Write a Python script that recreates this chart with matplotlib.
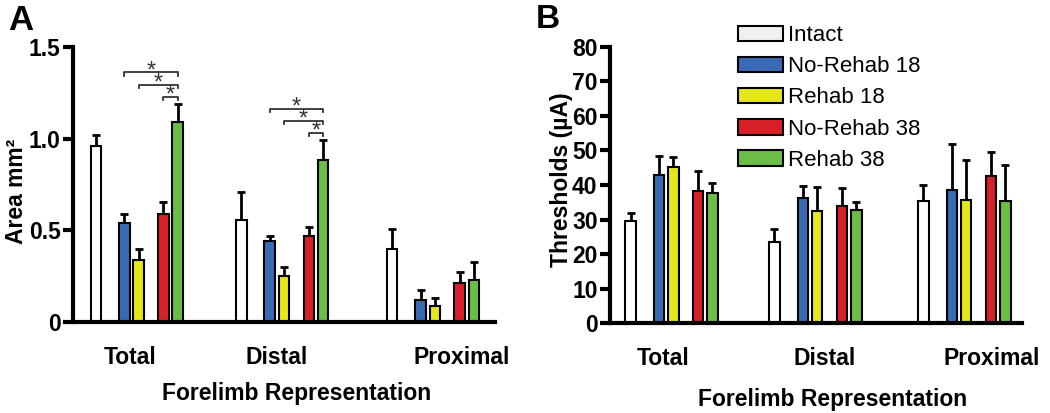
import numpy as np
import matplotlib.pyplot as plt
from matplotlib.patches import Patch

plt.rcParams['font.family'] = ['Liberation Sans', 'DejaVu Sans']

regions = ["Total", "Distal", "Proximal"]
groups = ["Intact", "No-Rehab 18", "Rehab 18", "No-Rehab 38", "Rehab 38"]
colors = ["#ffffff", "#3b6ab5", "#e6e61c", "#d92029", "#6bbd45"]

# panel A: area (mm^2), rows = groups, cols = regions
area_mean = [
    [0.96, 0.555, 0.40],
    [0.54, 0.44, 0.12],
    [0.34, 0.25, 0.09],
    [0.59, 0.47, 0.215],
    [1.09, 0.885, 0.23],
]
area_sem = [
    [0.06, 0.155, 0.11],
    [0.05, 0.03, 0.055],
    [0.06, 0.05, 0.04],
    [0.065, 0.05, 0.06],
    [0.10, 0.105, 0.10],
]

# panel B: thresholds (uA)
thr_mean = [
    [29.5, 23.6, 35.4],
    [43.0, 36.2, 38.5],
    [45.2, 32.6, 35.6],
    [38.2, 33.8, 42.5],
    [37.8, 32.8, 35.4],
]
thr_sem = [
    [2.5, 3.6, 4.6],
    [5.3, 3.4, 13.3],
    [3.0, 6.8, 11.7],
    [5.8, 5.2, 7.1],
    [2.9, 2.3, 10.4],
]

# significance: (region index, group from, group to, height)
sig_pairs = [
    (0, 1, 4, 1.36), (0, 2, 4, 1.293), (0, 3, 4, 1.226),
    (1, 1, 4, 1.163), (1, 2, 4, 1.096), (1, 3, 4, 1.03),
]

offsets = np.array([0, 2.48, 3.72, 5.88, 7.12])
width = 0.92
FS = 16.5


def draw_bars(ax, means, sems, region_pos):
    for gi in range(len(groups)):
        xs = np.array(region_pos) + offsets[gi]
        m = np.array(means[gi])
        e = np.array(sems[gi])
        ax.bar(xs, m, width=width, color=colors[gi], edgecolor="black",
               linewidth=1.5, zorder=2,
               yerr=[np.zeros_like(e), e],
               error_kw=dict(ecolor="black", elinewidth=2, capsize=2.8, capthick=2, zorder=1))


def style_axis(ax, label_pos):
    for s in ["top", "right"]:
        ax.spines[s].set_visible(False)
    ax.spines["left"].set_linewidth(3)
    ax.spines["bottom"].set_linewidth(3)
    ax.tick_params(axis="y", direction="out", length=7, width=3, labelsize=FS, pad=2)
    ax.tick_params(axis="x", length=0, labelsize=FS, pad=17)
    ax.set_xticks(label_pos)
    ax.set_xticklabels(regions, fontweight="bold")
    for t in ax.get_yticklabels():
        t.set_fontweight("bold")


fig = plt.figure(figsize=(10.5, 4.13), dpi=100)

# ---- panel A
axA = fig.add_axes([0.0695, 0.2196, 0.4015, 0.6674])
posA = [0, 12.65, 25.78]
draw_bars(axA, area_mean, area_sem, posA)
axA.set_xlim(-2.0, 34.7)
axA.set_ylim(0, 1.5)
axA.set_yticks([0, 0.5, 1.0, 1.5])
axA.set_yticklabels(["0", "0.5", "1.0", "1.5"])
style_axis(axA, [2.96, 15.7, 31.8])
axA.set_ylabel("Area mm²", fontsize=FS, fontweight="bold")
axA.yaxis.set_label_coords(-0.106, 0.475)
axA.set_xlabel("Forelimb Representation", fontsize=FS, fontweight="bold")
axA.xaxis.set_label_coords(0.53, -0.215)

for ri, g0, g1, h in sig_pairs:
    x0 = posA[ri] + offsets[g0]
    x1 = posA[ri] + offsets[g1]
    axA.plot([x0, x0, x1, x1], [h - 0.018, h, h, h - 0.018], color="#333333", lw=1.3, clip_on=False)
    axA.text((x0 + x1) / 2, h + 0.006, "*", ha="center", va="center", fontsize=17, color="#333333")

fig.text(0.008, 0.99, "A", fontsize=25, fontweight="bold", va="top", ha="left")

# ---- panel B
axB = fig.add_axes([0.581, 0.2172, 0.392, 0.67])
posB = [0, 12.5, 25.46]
draw_bars(axB, thr_mean, thr_sem, posB)
axB.set_xlim(-1.78, 34.0)
axB.set_ylim(0, 80)
axB.set_yticks(np.arange(0, 81, 10))
style_axis(axB, [2.85, 16.9, 31.4])
axB.set_ylabel("Thresholds (µA)", fontsize=FS, fontweight="bold")
axB.yaxis.set_label_coords(-0.09, 0.518)
axB.set_xlabel("Forelimb Representation", fontsize=FS, fontweight="bold")
axB.xaxis.set_label_coords(0.54, -0.234)

leg_colors = ["#f0f0f0"] + colors[1:]
handles = [Patch(facecolor=c, edgecolor="black", linewidth=1.5) for c in leg_colors]
axB.legend(handles, groups, loc="upper left", bbox_to_anchor=(0.311, 1.078),
           frameon=False, fontsize=16, handlelength=2.0, handleheight=0.68,
           labelspacing=0.46, handletextpad=0.25, borderaxespad=0, borderpad=0)

fig.text(0.51, 0.99, "B", fontsize=24, fontweight="bold", va="top", ha="left")

fig.savefig("out.png", dpi=100)
